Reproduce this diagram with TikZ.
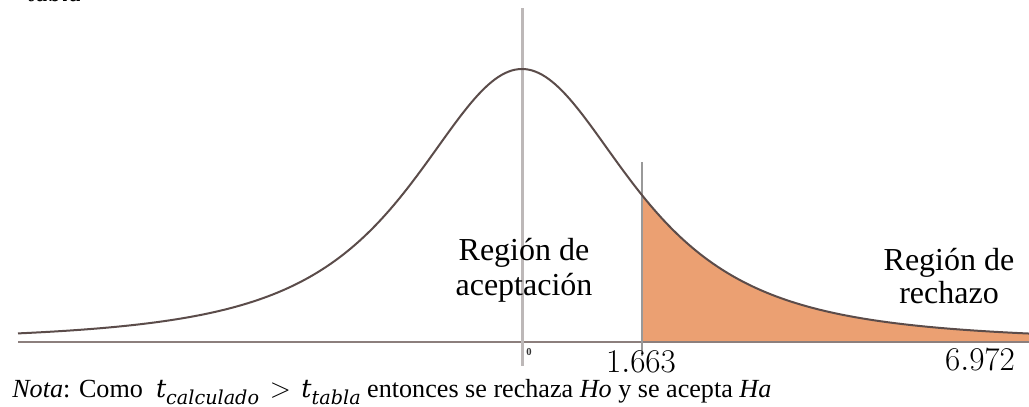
\documentclass[tikz,border=0pt]{standalone}
\usepackage{fontspec}
\setmainfont{Liberation Serif}
\newfontfamily\mfont{DejaVu Serif}
\newcommand\mt{{\mfont\itshape\fontsize{19}{19}\selectfont t}}
\newcommand\msb[1]{\raisebox{-0.28em}{\mfont\itshape\fontsize{14.4}{15}\selectfont #1}}
\definecolor{curvec}{HTML}{5B4C4A}
\definecolor{axisc}{HTML}{8C7F7D}
\definecolor{vlinec}{HTML}{BDB8B8}
\definecolor{rejc}{HTML}{EBA072}
\begin{document}
\begin{tikzpicture}[x=0.75pt,y=-0.75pt,
  declare function={tt(\x)=1+((\x-522)/118.6)^2/2; dens(\x)=342-273/(tt(\x)*sqrt(tt(\x)));},
  lbl/.style={font=\fontsize{24}{28}\selectfont, align=center, inner sep=0pt},
  numlbl/.style={font=\fontsize{24.4}{28}\selectfont, inner sep=0pt, anchor=base},
  notecap/.style={font=\fontsize{19.6}{22}\selectfont, inner sep=0pt, anchor=base west}]
\useasboundingbox (0,0) rectangle (1029,407);
\clip (0,0) rectangle (1029,407);
% shaded rejection region
\fill[rejc] (642,342) -- plot[domain=642:1029,samples=120] (\x,{dens(\x)}) -- (1029,342) -- cycle;
% axis
\draw[axisc, line width=1.5pt] (18,342) -- (1029,342);
% central vertical line
\draw[vlinec, line width=2.4pt] (522.7,8) -- (522.7,366);
% critical value line
\draw[gray!80, line width=1.4pt] (642,162) -- (642,356);
% curve
\draw[curvec, line width=1.5pt] plot[domain=18:1029,samples=300] (\x,{dens(\x)});
% labels
\node[lbl, anchor=base] (acc1) at (524,260) {Región de};
\node[lbl, anchor=base] (acc2) at (524,295) {aceptación};
\node[lbl, anchor=base] (rej1) at (949,270) {Región de};
\node[lbl, anchor=base] (rej2) at (949,303) {rechazo};
\node[font=\bfseries\fontsize{8}{8}\selectfont, inner sep=0pt, text=black!80] (zero) at (529,352) {0};
\node[numlbl] (crit) at (641,372) {$1.663$};
\node[numlbl] (tcal) at (980,370) {$6.972$};
\node[notecap] (nota) at (12,397) {\textit{Nota}: Como\ \ \mt\msb{calculado}\hspace{8pt}{\fontsize{21}{21}\selectfont$>$}\hspace{8pt}\mt\msb{tabla} entonces se rechaza \textit{Ho} y se acepta \textit{Ha}};
\node[inner sep=0pt, anchor=base west] (tab) at (27,2) {\mfont\itshape\fontsize{16}{16}\selectfont tabla};
\end{tikzpicture}
\end{document}
